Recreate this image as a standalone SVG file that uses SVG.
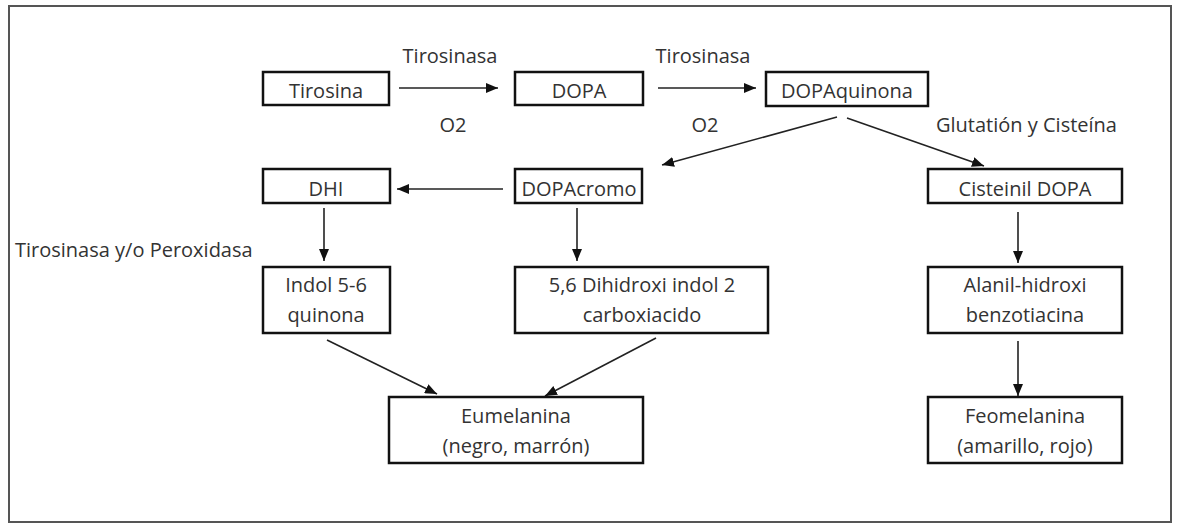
<svg xmlns="http://www.w3.org/2000/svg" width="1179" height="524" viewBox="0 0 1179 524">
<defs>
<style>
.box{fill:#fff;stroke:#111;stroke-width:2.5}
.t{font-family:"Open Sans","Noto Sans",sans-serif;font-size:20px;fill:#333;text-anchor:middle}
.lbl{font-family:"Open Sans","Noto Sans",sans-serif;font-size:20px;fill:#333}
.c{stroke:#222;stroke-width:1.6;fill:none;marker-end:url(#ah)}
</style>
<marker id="ah" markerUnits="userSpaceOnUse" markerWidth="12" markerHeight="10" refX="12" refY="5" orient="auto">
<path d="M0,0 L12,5 L0,10 z" fill="#111"/>
</marker>
</defs>
<rect x="0" y="0" width="1179" height="524" fill="#fff"/>
<rect x="9" y="6" width="1162" height="516" fill="none" stroke="#555" stroke-width="2"/>
<g id="connectors">
<line class="c" x1="399" y1="88" x2="498" y2="88"/>
<line class="c" x1="658" y1="88" x2="756" y2="88"/>
<line class="c" x1="837" y1="117" x2="662" y2="165"/>
<line class="c" x1="847" y1="118" x2="984" y2="166"/>
<line class="c" x1="503" y1="189" x2="397" y2="189"/>
<line class="c" x1="324" y1="208" x2="324" y2="261"/>
<line class="c" x1="577" y1="208" x2="577" y2="261"/>
<line class="c" x1="1018" y1="212" x2="1018" y2="263"/>
<line class="c" x1="327" y1="340" x2="437" y2="394"/>
<line class="c" x1="656" y1="338" x2="545" y2="396"/>
<line class="c" x1="1018" y1="341" x2="1018" y2="396"/>
</g>
<g id="labels">
<text class="t" x="450" y="63">Tirosinasa</text>
<text class="t" x="453" y="132">O2</text>
<text class="t" x="703" y="63">Tirosinasa</text>
<text class="t" x="705" y="132">O2</text>
<text class="lbl" x="936" y="132">Glutatión y Cisteína</text>
<text class="lbl" x="15" y="257">Tirosinasa y/o Peroxidasa</text>
</g>
<g id="tirosina"><rect class="box" x="263" y="72" width="126" height="33"/><text class="t" x="326" y="98">Tirosina</text></g>
<g id="dopa"><rect class="box" x="515" y="72" width="128" height="33"/><text class="t" x="579" y="98">DOPA</text></g>
<g id="dopaquinona"><rect class="box" x="766" y="72" width="162" height="34"/><text class="t" x="847" y="98">DOPAquinona</text></g>
<g id="dhi"><rect class="box" x="263" y="169" width="127" height="34"/><text class="t" x="326" y="196">DHI</text></g>
<g id="dopacromo"><rect class="box" x="515" y="169" width="127" height="34"/><text class="t" x="579" y="196">DOPAcromo</text></g>
<g id="cisteinil"><rect class="box" x="928" y="169" width="194" height="34"/><text class="t" x="1025" y="196">Cisteinil DOPA</text></g>
<g id="indol"><rect class="box" x="263" y="267" width="127" height="66"/><text class="t" x="326" y="292">Indol 5-6</text><text class="t" x="326" y="322">quinona</text></g>
<g id="dihidroxi"><rect class="box" x="515" y="267" width="253" height="66"/><text class="t" x="642" y="292">5,6 Dihidroxi indol 2</text><text class="t" x="642" y="322">carboxiacido</text></g>
<g id="alanil"><rect class="box" x="928" y="267" width="194" height="66"/><text class="t" x="1025" y="292">Alanil-hidroxi</text><text class="t" x="1025" y="322">benzotiacina</text></g>
<g id="eumelanina"><rect class="box" x="389" y="397" width="254" height="66"/><text class="t" x="516" y="423">Eumelanina</text><text class="t" x="516" y="453">(negro, marrón)</text></g>
<g id="feomelanina"><rect class="box" x="928" y="397" width="194" height="66"/><text class="t" x="1025" y="423">Feomelanina</text><text class="t" x="1025" y="453">(amarillo, rojo)</text></g>
</svg>
